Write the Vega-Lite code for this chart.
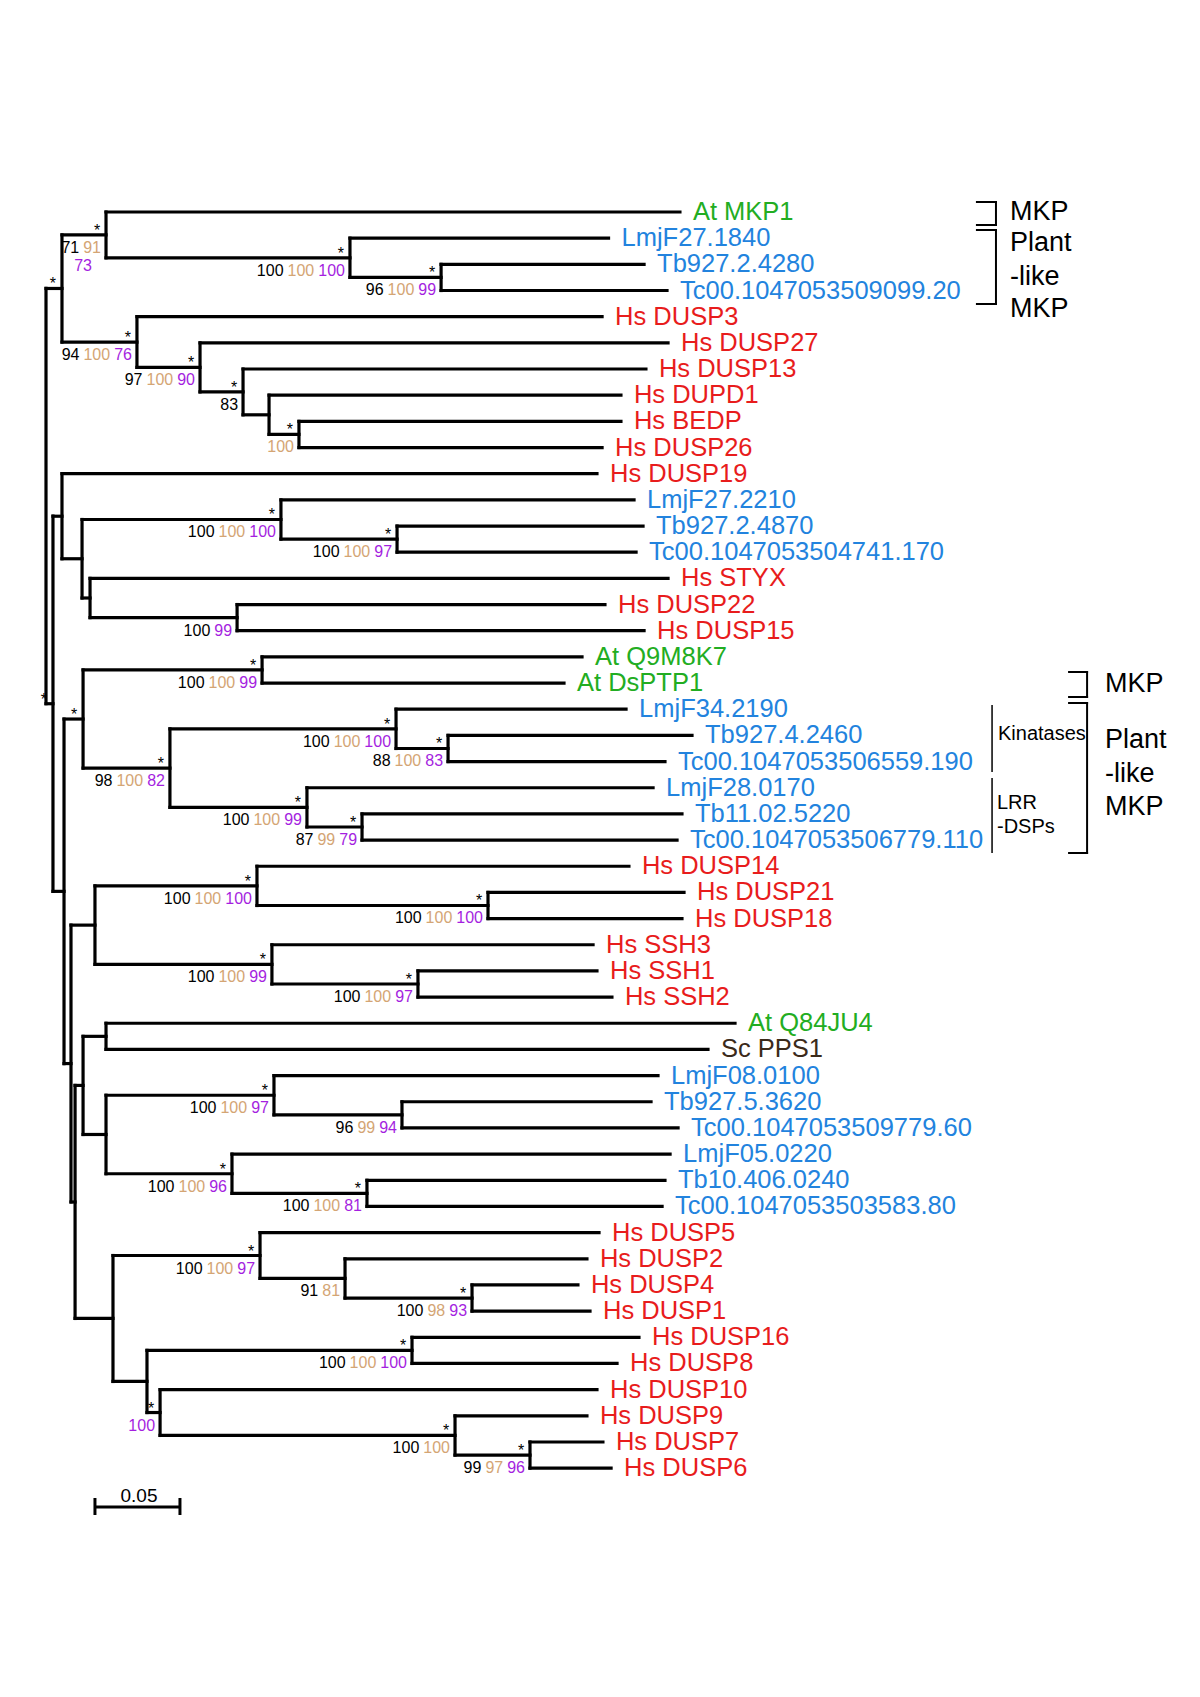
{
  "$schema": "https://vega.github.io/schema/vega-lite/v6.json",
  "width": 1200,
  "height": 1697,
  "padding": 0,
  "autosize": "none",
  "background": "white",
  "config": {"view": {"stroke": null}, "font": "Liberation Sans"},
  "datasets": {
    "nodes": [
      {"id": "R", "d": 0, "y": 11.856, "y1": 3.922, "y2": 19.79},
      {"id": "A1", "d": 0.0094, "pd": 0, "y": 3.922, "y1": 1.875, "y2": 5.969, "star": true},
      {"id": "n1", "d": 0.0353, "pd": 0.0094, "y": 1.875, "y1": 1, "y2": 2.75, "star": true, "a": "71", "b": "91", "c2": "73"},
      {"id": "n2", "d": 0.1788, "pd": 0.0353, "y": 2.75, "y1": 2, "y2": 3.5, "star": true, "a": "100", "b": "100", "c": "100"},
      {"id": "n3", "d": 0.2324, "pd": 0.1788, "y": 3.5, "y1": 3, "y2": 4, "star": true, "a": "96", "b": "100", "c": "99"},
      {"id": "n4", "d": 0.0535, "pd": 0.0094, "y": 5.969, "y1": 5, "y2": 6.938, "star": true, "a": "94", "b": "100", "c": "76"},
      {"id": "n5", "d": 0.0906, "pd": 0.0535, "y": 6.938, "y1": 6, "y2": 7.875, "star": true, "a": "97", "b": "100", "c": "90"},
      {"id": "n6", "d": 0.1159, "pd": 0.0906, "y": 7.875, "y1": 7, "y2": 8.75, "star": true, "a": "83"},
      {"id": "n7", "d": 0.1312, "pd": 0.1159, "y": 8.75, "y1": 8, "y2": 9.5},
      {"id": "n8", "d": 0.1488, "pd": 0.1312, "y": 9.5, "y1": 9, "y2": 10, "star": true, "b": "100"},
      {"id": "Q", "d": 0.0041, "pd": 0, "y": 19.79, "y1": 12.625, "y2": 26.96, "star": true},
      {"id": "B", "d": 0.0094, "pd": 0.0041, "y": 12.625, "y1": 11, "y2": 14.25},
      {"id": "C", "d": 0.0212, "pd": 0.0094, "y": 14.25, "y1": 12.75, "y2": 15.75},
      {"id": "D", "d": 0.1382, "pd": 0.0212, "y": 12.75, "y1": 12, "y2": 13.5, "star": true, "a": "100", "b": "100", "c": "100"},
      {"id": "G", "d": 0.2065, "pd": 0.1382, "y": 13.5, "y1": 13, "y2": 14, "star": true, "a": "100", "b": "100", "c": "97"},
      {"id": "E", "d": 0.0259, "pd": 0.0212, "y": 15.75, "y1": 15, "y2": 16.5},
      {"id": "F", "d": 0.1124, "pd": 0.0259, "y": 16.5, "y1": 16, "y2": 17, "a": "100", "c": "99"},
      {"id": "P", "d": 0.0106, "pd": 0.0041, "y": 26.96, "y1": 20.375, "y2": 33.54},
      {"id": "H", "d": 0.0218, "pd": 0.0106, "y": 20.375, "y1": 18.5, "y2": 22.25, "star": true},
      {"id": "I", "d": 0.1271, "pd": 0.0218, "y": 18.5, "y1": 18, "y2": 19, "star": true, "a": "100", "b": "100", "c": "99"},
      {"id": "J", "d": 0.0729, "pd": 0.0218, "y": 22.25, "y1": 20.75, "y2": 23.75, "star": true, "a": "98", "b": "100", "c": "82"},
      {"id": "K", "d": 0.2059, "pd": 0.0729, "y": 20.75, "y1": 20, "y2": 21.5, "star": true, "a": "100", "b": "100", "c": "100"},
      {"id": "L", "d": 0.2365, "pd": 0.2059, "y": 21.5, "y1": 21, "y2": 22, "star": true, "a": "88", "b": "100", "c": "83"},
      {"id": "M", "d": 0.1535, "pd": 0.0729, "y": 23.75, "y1": 23, "y2": 24.5, "star": true, "a": "100", "b": "100", "c": "99"},
      {"id": "N", "d": 0.1859, "pd": 0.1535, "y": 24.5, "y1": 24, "y2": 25, "star": true, "a": "87", "b": "99", "c": "79"},
      {"id": "S", "d": 0.0147, "pd": 0.0106, "y": 33.54, "y1": 28.25, "y2": 38.83},
      {"id": "T", "d": 0.0288, "pd": 0.0147, "y": 28.25, "y1": 26.75, "y2": 29.75},
      {"id": "U", "d": 0.1241, "pd": 0.0288, "y": 26.75, "y1": 26, "y2": 27.5, "star": true, "a": "100", "b": "100", "c": "100"},
      {"id": "V", "d": 0.26, "pd": 0.1241, "y": 27.5, "y1": 27, "y2": 28, "star": true, "a": "100", "b": "100", "c": "100"},
      {"id": "W", "d": 0.1329, "pd": 0.0288, "y": 29.75, "y1": 29, "y2": 30.5, "star": true, "a": "100", "b": "100", "c": "99"},
      {"id": "X", "d": 0.2188, "pd": 0.1329, "y": 30.5, "y1": 30, "y2": 31, "star": true, "a": "100", "b": "100", "c": "97"},
      {"id": "O", "d": 0.0171, "pd": 0.0147, "y": 38.83, "y1": 34.375, "y2": 43.28},
      {"id": "Y", "d": 0.0218, "pd": 0.0171, "y": 34.375, "y1": 32.5, "y2": 36.25},
      {"id": "Z", "d": 0.0353, "pd": 0.0218, "y": 32.5, "y1": 32, "y2": 33},
      {"id": "AA", "d": 0.0353, "pd": 0.0218, "y": 36.25, "y1": 34.75, "y2": 37.75},
      {"id": "AB", "d": 0.1341, "pd": 0.0353, "y": 34.75, "y1": 34, "y2": 35.5, "star": true, "a": "100", "b": "100", "c": "97"},
      {"id": "AC", "d": 0.2094, "pd": 0.1341, "y": 35.5, "y1": 35, "y2": 36, "a": "96", "b": "99", "c": "94"},
      {"id": "AD", "d": 0.1094, "pd": 0.0353, "y": 37.75, "y1": 37, "y2": 38.5, "star": true, "a": "100", "b": "100", "c": "96"},
      {"id": "AE", "d": 0.1888, "pd": 0.1094, "y": 38.5, "y1": 38, "y2": 39, "star": true, "a": "100", "b": "100", "c": "81"},
      {"id": "AF", "d": 0.0394, "pd": 0.0171, "y": 43.28, "y1": 40.875, "y2": 45.688},
      {"id": "AG", "d": 0.1259, "pd": 0.0394, "y": 40.875, "y1": 40, "y2": 41.75, "star": true, "a": "100", "b": "100", "c": "97"},
      {"id": "AH", "d": 0.1759, "pd": 0.1259, "y": 41.75, "y1": 41, "y2": 42.5, "a": "91", "b": "81"},
      {"id": "AI", "d": 0.2506, "pd": 0.1759, "y": 42.5, "y1": 42, "y2": 43, "star": true, "a": "100", "b": "98", "c": "93"},
      {"id": "AJ", "d": 0.0594, "pd": 0.0394, "y": 45.688, "y1": 44.5, "y2": 46.875},
      {"id": "AK", "d": 0.2153, "pd": 0.0594, "y": 44.5, "y1": 44, "y2": 45, "star": true, "a": "100", "b": "100", "c": "100"},
      {"id": "AL", "d": 0.0671, "pd": 0.0594, "y": 46.875, "y1": 46, "y2": 47.75, "star": true, "c": "100"},
      {"id": "AM", "d": 0.2406, "pd": 0.0671, "y": 47.75, "y1": 47, "y2": 48.5, "star": true, "a": "100", "b": "100"},
      {"id": "AN", "d": 0.2847, "pd": 0.2406, "y": 48.5, "y1": 48, "y2": 49, "star": true, "a": "99", "b": "97", "c": "96"},
      {"id": "t1", "label": "At MKP1", "grp": "At", "d": 0.3729, "pd": 0.0353, "y": 1},
      {"id": "t2", "label": "LmjF27.1840", "grp": "Kin", "d": 0.3309, "pd": 0.1788, "y": 2},
      {"id": "t3", "label": "Tb927.2.4280", "grp": "Kin", "d": 0.3518, "pd": 0.2324, "y": 3},
      {"id": "t4", "label": "Tc00.1047053509099.20", "grp": "Kin", "d": 0.3653, "pd": 0.2324, "y": 4},
      {"id": "t5", "label": "Hs DUSP3", "grp": "Hs", "d": 0.3271, "pd": 0.0535, "y": 5},
      {"id": "t6", "label": "Hs DUSP27", "grp": "Hs", "d": 0.3659, "pd": 0.0906, "y": 6},
      {"id": "t7", "label": "Hs DUSP13", "grp": "Hs", "d": 0.3529, "pd": 0.1159, "y": 7},
      {"id": "t8", "label": "Hs DUPD1", "grp": "Hs", "d": 0.3382, "pd": 0.1312, "y": 8},
      {"id": "t9", "label": "Hs BEDP", "grp": "Hs", "d": 0.3382, "pd": 0.1488, "y": 9},
      {"id": "t10", "label": "Hs DUSP26", "grp": "Hs", "d": 0.3271, "pd": 0.1488, "y": 10},
      {"id": "t11", "label": "Hs DUSP19", "grp": "Hs", "d": 0.3241, "pd": 0.0094, "y": 11},
      {"id": "t12", "label": "LmjF27.2210", "grp": "Kin", "d": 0.3459, "pd": 0.1382, "y": 12},
      {"id": "t13", "label": "Tb927.2.4870", "grp": "Kin", "d": 0.3512, "pd": 0.2065, "y": 13},
      {"id": "t14", "label": "Tc00.1047053504741.170", "grp": "Kin", "d": 0.3471, "pd": 0.2065, "y": 14},
      {"id": "t15", "label": "Hs STYX", "grp": "Hs", "d": 0.3659, "pd": 0.0259, "y": 15},
      {"id": "t16", "label": "Hs DUSP22", "grp": "Hs", "d": 0.3288, "pd": 0.1124, "y": 16},
      {"id": "t17", "label": "Hs DUSP15", "grp": "Hs", "d": 0.3518, "pd": 0.1124, "y": 17},
      {"id": "t18", "label": "At Q9M8K7", "grp": "At", "d": 0.3153, "pd": 0.1271, "y": 18},
      {"id": "t19", "label": "At DsPTP1", "grp": "At", "d": 0.3047, "pd": 0.1271, "y": 19},
      {"id": "t20", "label": "LmjF34.2190", "grp": "Kin", "d": 0.3412, "pd": 0.2059, "y": 20},
      {"id": "t21", "label": "Tb927.4.2460", "grp": "Kin", "d": 0.38, "pd": 0.2365, "y": 21},
      {"id": "t22", "label": "Tc00.1047053506559.190", "grp": "Kin", "d": 0.3641, "pd": 0.2365, "y": 22},
      {"id": "t23", "label": "LmjF28.0170", "grp": "Kin", "d": 0.3571, "pd": 0.1535, "y": 23},
      {"id": "t24", "label": "Tb11.02.5220", "grp": "Kin", "d": 0.3741, "pd": 0.1859, "y": 24},
      {"id": "t25", "label": "Tc00.1047053506779.110", "grp": "Kin", "d": 0.3712, "pd": 0.1859, "y": 25},
      {"id": "t26", "label": "Hs DUSP14", "grp": "Hs", "d": 0.3429, "pd": 0.1241, "y": 26},
      {"id": "t27", "label": "Hs DUSP21", "grp": "Hs", "d": 0.3753, "pd": 0.26, "y": 27},
      {"id": "t28", "label": "Hs DUSP18", "grp": "Hs", "d": 0.3741, "pd": 0.26, "y": 28},
      {"id": "t29", "label": "Hs SSH3", "grp": "Hs", "d": 0.3218, "pd": 0.1329, "y": 29},
      {"id": "t30", "label": "Hs SSH1", "grp": "Hs", "d": 0.3241, "pd": 0.2188, "y": 30},
      {"id": "t31", "label": "Hs SSH2", "grp": "Hs", "d": 0.3329, "pd": 0.2188, "y": 31},
      {"id": "t32", "label": "At Q84JU4", "grp": "At", "d": 0.4053, "pd": 0.0353, "y": 32},
      {"id": "t33", "label": "Sc PPS1", "grp": "Sc", "d": 0.3894, "pd": 0.0353, "y": 33},
      {"id": "t34", "label": "LmjF08.0100", "grp": "Kin", "d": 0.36, "pd": 0.1341, "y": 34},
      {"id": "t35", "label": "Tb927.5.3620", "grp": "Kin", "d": 0.3559, "pd": 0.2094, "y": 35},
      {"id": "t36", "label": "Tc00.1047053509779.60", "grp": "Kin", "d": 0.3718, "pd": 0.2094, "y": 36},
      {"id": "t37", "label": "LmjF05.0220", "grp": "Kin", "d": 0.3671, "pd": 0.1094, "y": 37},
      {"id": "t38", "label": "Tb10.406.0240", "grp": "Kin", "d": 0.3641, "pd": 0.1888, "y": 38},
      {"id": "t39", "label": "Tc00.1047053503583.80", "grp": "Kin", "d": 0.3624, "pd": 0.1888, "y": 39},
      {"id": "t40", "label": "Hs DUSP5", "grp": "Hs", "d": 0.3253, "pd": 0.1259, "y": 40},
      {"id": "t41", "label": "Hs DUSP2", "grp": "Hs", "d": 0.3182, "pd": 0.1759, "y": 41},
      {"id": "t42", "label": "Hs DUSP4", "grp": "Hs", "d": 0.3129, "pd": 0.2506, "y": 42},
      {"id": "t43", "label": "Hs DUSP1", "grp": "Hs", "d": 0.32, "pd": 0.2506, "y": 43},
      {"id": "t44", "label": "Hs DUSP16", "grp": "Hs", "d": 0.3488, "pd": 0.2153, "y": 44},
      {"id": "t45", "label": "Hs DUSP8", "grp": "Hs", "d": 0.3359, "pd": 0.2153, "y": 45},
      {"id": "t46", "label": "Hs DUSP10", "grp": "Hs", "d": 0.3241, "pd": 0.0671, "y": 46},
      {"id": "t47", "label": "Hs DUSP9", "grp": "Hs", "d": 0.3182, "pd": 0.2406, "y": 47},
      {"id": "t48", "label": "Hs DUSP7", "grp": "Hs", "d": 0.3276, "pd": 0.2847, "y": 48},
      {"id": "t49", "label": "Hs DUSP6", "grp": "Hs", "d": 0.3324, "pd": 0.2847, "y": 49}
    ],
    "brackets": [
      {"x": 0.5476, "x2": 0.5588, "y": 0.618, "y2": 0.618},
      {"x": 0.5476, "x2": 0.5588, "y": 1.497, "y2": 1.497},
      {"x": 0.5588, "x2": 0.5588, "y": 0.618, "y2": 1.497},
      {"x": 0.5476, "x2": 0.5588, "y": 1.688, "y2": 1.688},
      {"x": 0.5476, "x2": 0.5588, "y": 4.516, "y2": 4.516},
      {"x": 0.5588, "x2": 0.5588, "y": 1.688, "y2": 4.516},
      {"x": 0.6018, "x2": 0.6124, "y": 18.577, "y2": 18.577},
      {"x": 0.6018, "x2": 0.6124, "y": 19.533, "y2": 19.533},
      {"x": 0.6124, "x2": 0.6124, "y": 18.577, "y2": 19.533},
      {"x": 0.6018, "x2": 0.6124, "y": 19.762, "y2": 19.762},
      {"x": 0.6018, "x2": 0.6124, "y": 25.494, "y2": 25.494},
      {"x": 0.6124, "x2": 0.6124, "y": 19.762, "y2": 25.494}
    ],
    "subgroups": [
      {"x": 0.5565, "y": 19.839, "y2": 22.399},
      {"x": 0.5565, "y": 22.628, "y2": 25.494}
    ],
    "scalebar": [
      {"x": 0.0288, "x2": 0.0788, "y": 50.484, "y2": 50.484},
      {"x": 0.0288, "x2": 0.0288, "y": 50.14, "y2": 50.79},
      {"x": 0.0788, "x2": 0.0788, "y": 50.14, "y2": 50.79}
    ],
    "notes": [
      {"t": "MKP", "x": 0.5671, "y": 1.0, "k": "big"},
      {"t": "Plant", "x": 0.5671, "y": 2.185, "k": "big"},
      {"t": "-like", "x": 0.5671, "y": 3.484, "k": "big"},
      {"t": "MKP", "x": 0.5671, "y": 4.707, "k": "big"},
      {"t": "MKP", "x": 0.6229, "y": 19.036, "k": "big"},
      {"t": "Plant", "x": 0.6229, "y": 21.176, "k": "big"},
      {"t": "-like", "x": 0.6229, "y": 22.475, "k": "big"},
      {"t": "MKP", "x": 0.6229, "y": 23.736, "k": "big"},
      {"t": "Kinatases", "x": 0.56, "y": 20.947, "k": "small"},
      {"t": "LRR", "x": 0.5594, "y": 23.584, "k": "small"},
      {"t": "-DSPs", "x": 0.5594, "y": 24.501, "k": "small"},
      {"t": "0.05", "x": 0.0547, "y": 50.29, "k": "scale"}
    ]
  },
  "encoding": {
    "x": {"type": "quantitative", "scale": {"domain": [-0.02706, 0.67882], "nice": false, "zero": false}, "axis": null},
    "y": {"type": "quantitative", "scale": {"domain": [-7.101, 57.745], "nice": false, "zero": false, "reverse": true}, "axis": null}
  },
  "layer": [
    {
      "data": {"name": "nodes"},
      "transform": [{"filter": "isValid(datum.pd)"}],
      "mark": {"type": "rule", "strokeWidth": 3.2, "color": "black", "strokeCap": "square"},
      "encoding": {"x": {"field": "pd"}, "x2": {"field": "d"}, "y": {"field": "y"}}
    },
    {
      "data": {"name": "nodes"},
      "transform": [{"filter": "isValid(datum.y1)"}],
      "mark": {"type": "rule", "strokeWidth": 3.2, "color": "black", "strokeCap": "square"},
      "encoding": {"x": {"field": "d"}, "y": {"field": "y1"}, "y2": {"field": "y2"}}
    },
    {
      "data": {"name": "nodes"},
      "transform": [{"filter": "isValid(datum.label)"}],
      "mark": {"type": "text", "align": "left", "baseline": "middle", "dx": 13, "fontSize": 25.5, "font": "Liberation Sans"},
      "encoding": {
        "x": {"field": "d"},
        "y": {"field": "y"},
        "text": {"field": "label", "type": "nominal"},
        "color": {"field": "grp", "type": "nominal", "legend": null,
          "scale": {"domain": ["At", "Kin", "Hs", "Sc"], "range": ["#22ad22", "#2283de", "#e81c1c", "#3b2a1a"]}}
      }
    },
    {
      "data": {"name": "nodes"},
      "transform": [{"filter": "datum.star === true"}],
      "mark": {"type": "text", "text": "*", "align": "center", "baseline": "alphabetic", "dx": -9, "dy": 1, "fontSize": 16, "color": "black"},
      "encoding": {"x": {"field": "d"}, "y": {"field": "y"}}
    },
    {
      "data": {"name": "nodes"},
      "transform": [{"filter": "isValid(datum.c)"}],
      "mark": {"type": "text", "align": "right", "baseline": "alphabetic", "dx": -5, "dy": 18, "fontSize": 16, "font": "Liberation Sans", "color": "#a51fe0"},
      "encoding": {"x": {"field": "d"}, "y": {"field": "y"}, "text": {"field": "c", "type": "nominal"}}
    },
    {
      "data": {"name": "nodes"},
      "transform": [{"filter": "isValid(datum.b)"}],
      "mark": {"type": "text", "align": "right", "baseline": "alphabetic", "dx": {"expr": "-5 - (datum.c ? length(datum.c) * 8.9 + 4 : 0)"}, "dy": 18, "fontSize": 16, "font": "Liberation Sans", "color": "#d4a574"},
      "encoding": {"x": {"field": "d"}, "y": {"field": "y"}, "text": {"field": "b", "type": "nominal"}}
    },
    {
      "data": {"name": "nodes"},
      "transform": [{"filter": "isValid(datum.a)"}],
      "mark": {"type": "text", "align": "right", "baseline": "alphabetic", "dx": {"expr": "-5 - (datum.c ? length(datum.c) * 8.9 + 4 : 0) - (datum.b ? length(datum.b) * 8.9 + 4 : 0)"}, "dy": 18, "fontSize": 16, "font": "Liberation Sans", "color": "black"},
      "encoding": {"x": {"field": "d"}, "y": {"field": "y"}, "text": {"field": "a", "type": "nominal"}}
    },
    {
      "data": {"name": "nodes"},
      "transform": [{"filter": "isValid(datum.c2)"}],
      "mark": {"type": "text", "align": "right", "baseline": "alphabetic", "dx": -14, "dy": 36, "fontSize": 16, "font": "Liberation Sans", "color": "#a51fe0"},
      "encoding": {"x": {"field": "d"}, "y": {"field": "y"}, "text": {"field": "c2", "type": "nominal"}}
    },
    {
      "data": {"name": "brackets"},
      "mark": {"type": "rule", "strokeWidth": 2, "color": "black", "strokeCap": "square"},
      "encoding": {"x": {"field": "x"}, "x2": {"field": "x2"}, "y": {"field": "y"}, "y2": {"field": "y2"}}
    },
    {
      "data": {"name": "subgroups"},
      "mark": {"type": "rule", "strokeWidth": 1.5, "color": "black"},
      "encoding": {"x": {"field": "x"}, "y": {"field": "y"}, "y2": {"field": "y2"}}
    },
    {
      "data": {"name": "scalebar"},
      "mark": {"type": "rule", "strokeWidth": 3, "color": "black"},
      "encoding": {"x": {"field": "x"}, "x2": {"field": "x2"}, "y": {"field": "y"}, "y2": {"field": "y2"}}
    },
    {
      "data": {"name": "notes"},
      "transform": [{"filter": "datum.k === 'big'"}],
      "mark": {"type": "text", "align": "left", "baseline": "middle", "fontSize": 27, "color": "black"},
      "encoding": {"x": {"field": "x"}, "y": {"field": "y"}, "text": {"field": "t", "type": "nominal"}}
    },
    {
      "data": {"name": "notes"},
      "transform": [{"filter": "datum.k === 'small'"}],
      "mark": {"type": "text", "align": "left", "baseline": "middle", "fontSize": 20, "color": "black"},
      "encoding": {"x": {"field": "x"}, "y": {"field": "y"}, "text": {"field": "t", "type": "nominal"}}
    },
    {
      "data": {"name": "notes"},
      "transform": [{"filter": "datum.k === 'scale'"}],
      "mark": {"type": "text", "align": "center", "baseline": "alphabetic", "fontSize": 19, "color": "black"},
      "encoding": {"x": {"field": "x"}, "y": {"field": "y"}, "text": {"field": "t", "type": "nominal"}}
    }
  ]
}
